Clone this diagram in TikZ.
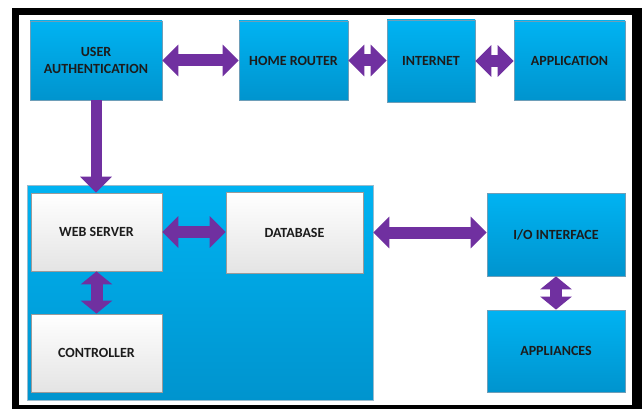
\documentclass[tikz,border=0pt]{standalone}
\usepackage{fontspec}
\setmainfont{Carlito}
\usetikzlibrary{arrows.meta}
\definecolor{boxtop}{HTML}{00B3F2}
\definecolor{boxbot}{HTML}{0094CE}
\definecolor{boxline}{HTML}{6E9EB8}
\definecolor{greytop}{HTML}{FFFFFF}
\definecolor{greybot}{HTML}{E4E4E4}
\definecolor{greyline}{HTML}{9A9A9A}
\definecolor{linkpurple}{HTML}{7030A0}
\definecolor{labeltext}{HTML}{1C1C1C}
\tikzset{
  bluebox/.style={rectangle, top color=boxtop, bottom color=boxbot, draw=boxline,
    line width=0.8pt, inner sep=0pt, align=center, text=labeltext,
    font=\fontsize{14}{17}\selectfont\bfseries},
  whitebox/.style={bluebox, top color=greytop, bottom color=greybot, draw=greyline},
  panel/.style={rectangle, top color=boxtop, bottom color=boxbot, draw=boxline!70,
    line width=0.8pt, inner sep=0pt},
  link/.style={draw=linkpurple, line width=12pt,
    {Triangle[width=31pt,length=16pt]}-{Triangle[width=31pt,length=16pt]}},
  shortlink/.style={draw=linkpurple, line width=12pt,
    {Triangle[width=31pt,length=13pt]}-{Triangle[width=31pt,length=13pt]}},
  downlink/.style={draw=linkpurple, line width=11pt,
    -{Triangle[width=31pt,length=16pt]}},
}
\begin{document}
\begin{tikzpicture}[x=1pt,y=-1pt]
  \useasboundingbox (0,0) rectangle (642,409);
  % outer frame
  \fill[black] (12,8) rectangle (642,412);
  \fill[white] (19,15) rectangle (632,405);

  % top row
  \node[bluebox, minimum width=132pt, minimum height=79pt] (ua) at (96,60.5) {USER\\AUTHENTICATION};
  \node[bluebox, minimum width=109pt, minimum height=79pt] (hr) at (293.5,60.5) {HOME ROUTER};
  \node[bluebox, minimum width=88pt, minimum height=82pt] (net) at (431,61) {INTERNET};
  \node[bluebox, minimum width=111pt, minimum height=79pt] (app) at (569.5,60.5) {APPLICATION};

  % server panel and its parts
  \node[panel, minimum width=346pt, minimum height=215pt] (panel) at (200,292.5) {};
  \node[whitebox, minimum width=131pt, minimum height=78pt] (ws) at (96.5,232) {WEB SERVER};
  \node[whitebox, minimum width=137pt, minimum height=81pt] (db) at (294.5,232.5) {DATABASE};
  \node[whitebox, minimum width=131pt, minimum height=78pt] (ctrl) at (96.5,353) {CONTROLLER};

  % right column
  \node[bluebox, minimum width=138pt, minimum height=83pt] (io) at (556,234.5) {I/O INTERFACE};
  \node[bluebox, minimum width=138pt, minimum height=82pt] (appl) at (556,351) {APPLIANCES};

  % links
  \draw[link] (ua.east) -- (hr.west);
  \draw[link] (hr.east) -- (hr.east -| net.west);
  \draw[link] (net.east) -- (net.east -| app.west);
  \draw[downlink] (ua.south) -- (ua.south |- ws.north);
  \draw[link] (ws.east) -- (ws.east -| db.west);
  \draw[shortlink] (ws.south) -- (ctrl.north);
  \draw[link] (db.east -| panel.east) -- (db.east -| io.west);
  \draw[shortlink] (io.south) -- (appl.north);
\end{tikzpicture}
\end{document}
